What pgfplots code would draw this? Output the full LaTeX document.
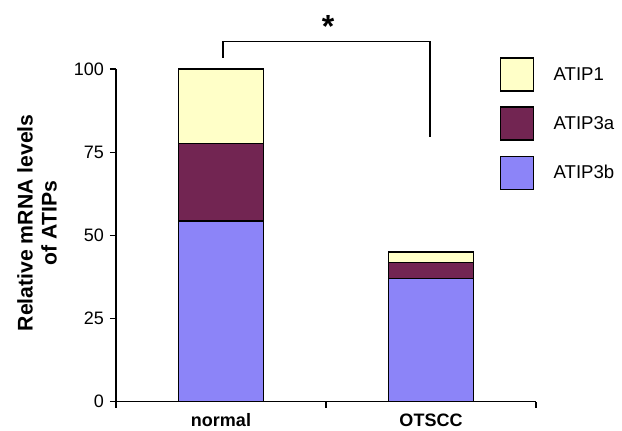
\documentclass[border=0pt]{standalone}
\usepackage{fontspec}
\setmainfont{Liberation Sans}
\usepackage{pgfplots}
\pgfplotsset{compat=1.18}
\definecolor{cA}{HTML}{FFFFC8}
\definecolor{cB}{HTML}{722552}
\definecolor{cC}{HTML}{8C84F8}
\pgfplotsset{
  boxleg/.style={legend image code/.code={%
    \draw[##1, line width=1.6pt] (0pt,-16.5pt) rectangle (33pt,16.5pt);
    \path[draw=none, fill=none] (0pt,0pt) -- (53pt,0pt);}}
}
\begin{document}
\begin{tikzpicture}
\begin{axis}[
  scale only axis, width=420pt, height=332.4pt,
  xmin=-0.5, xmax=1.5, ymin=0, ymax=100,
  ybar stacked, bar width=85pt,
  axis x line*=bottom, axis y line*=left,
  axis line style={line width=1.6pt, -},
  tick align=outside,
  major tick length=6pt,
  tick style={line width=1.6pt, black},
  xtick={-0.5,0.5,1.5}, xticklabels={},
  extra x ticks={0,1}, extra x tick labels={normal,OTSCC},
  extra x tick style={major tick length=0pt,
     xticklabel style={font=\bfseries\fontsize{18}{20}\selectfont, anchor=base, inner sep=0pt, yshift=-25pt}},
  ytick={0,25,50,75,100},
  yticklabel style={font=\fontsize{18}{20}\selectfont, anchor=east, inner sep=0pt, xshift=-6pt},
  /pgf/number format/assume math mode=true,
  ylabel={Relative mRNA levels\\of ATIPs},
  ylabel style={font=\bfseries\fontsize{21.2}{24}\selectfont, align=center, at={(-0.188,0.538)}, anchor=center},
  clip=false,
  reverse legend,
  legend style={draw=none, fill=none, at={(0.914,1.036)}, anchor=north west,
     inner sep=0pt, outer sep=0pt, row sep=14.5pt, column sep=0pt,
     font=\fontsize{18.6}{20}\selectfont,
     nodes={inner sep=0pt, outer sep=0pt, anchor=west}},
]
\addplot+[fill=cC, draw=black, line width=1.6pt, boxleg] coordinates {(0,54.4) (1,37.1)};
\addplot+[fill=cB, draw=black, line width=1.6pt, boxleg] coordinates {(0,23.3) (1,4.8)};
\addplot+[fill=cA, draw=black, line width=1.6pt, boxleg] coordinates {(0,22.3) (1,3.2)};
\legend{ATIP3b,ATIP3a,ATIP1}
\draw[line width=1.3pt] (axis cs:0.01,103.4) -- (axis cs:0.01,108.3) -- (axis cs:0.995,108.3) -- (axis cs:0.995,79.7);
\node[font=\bfseries\fontsize{32}{32}\selectfont, inner sep=0pt] at (axis cs:0.5095,113) {*};
\end{axis}
\pgfresetboundingbox
\path (current axis.south west) ++(-116pt,-29.3pt) rectangle ++(622pt,431pt);
\end{tikzpicture}
\end{document}
